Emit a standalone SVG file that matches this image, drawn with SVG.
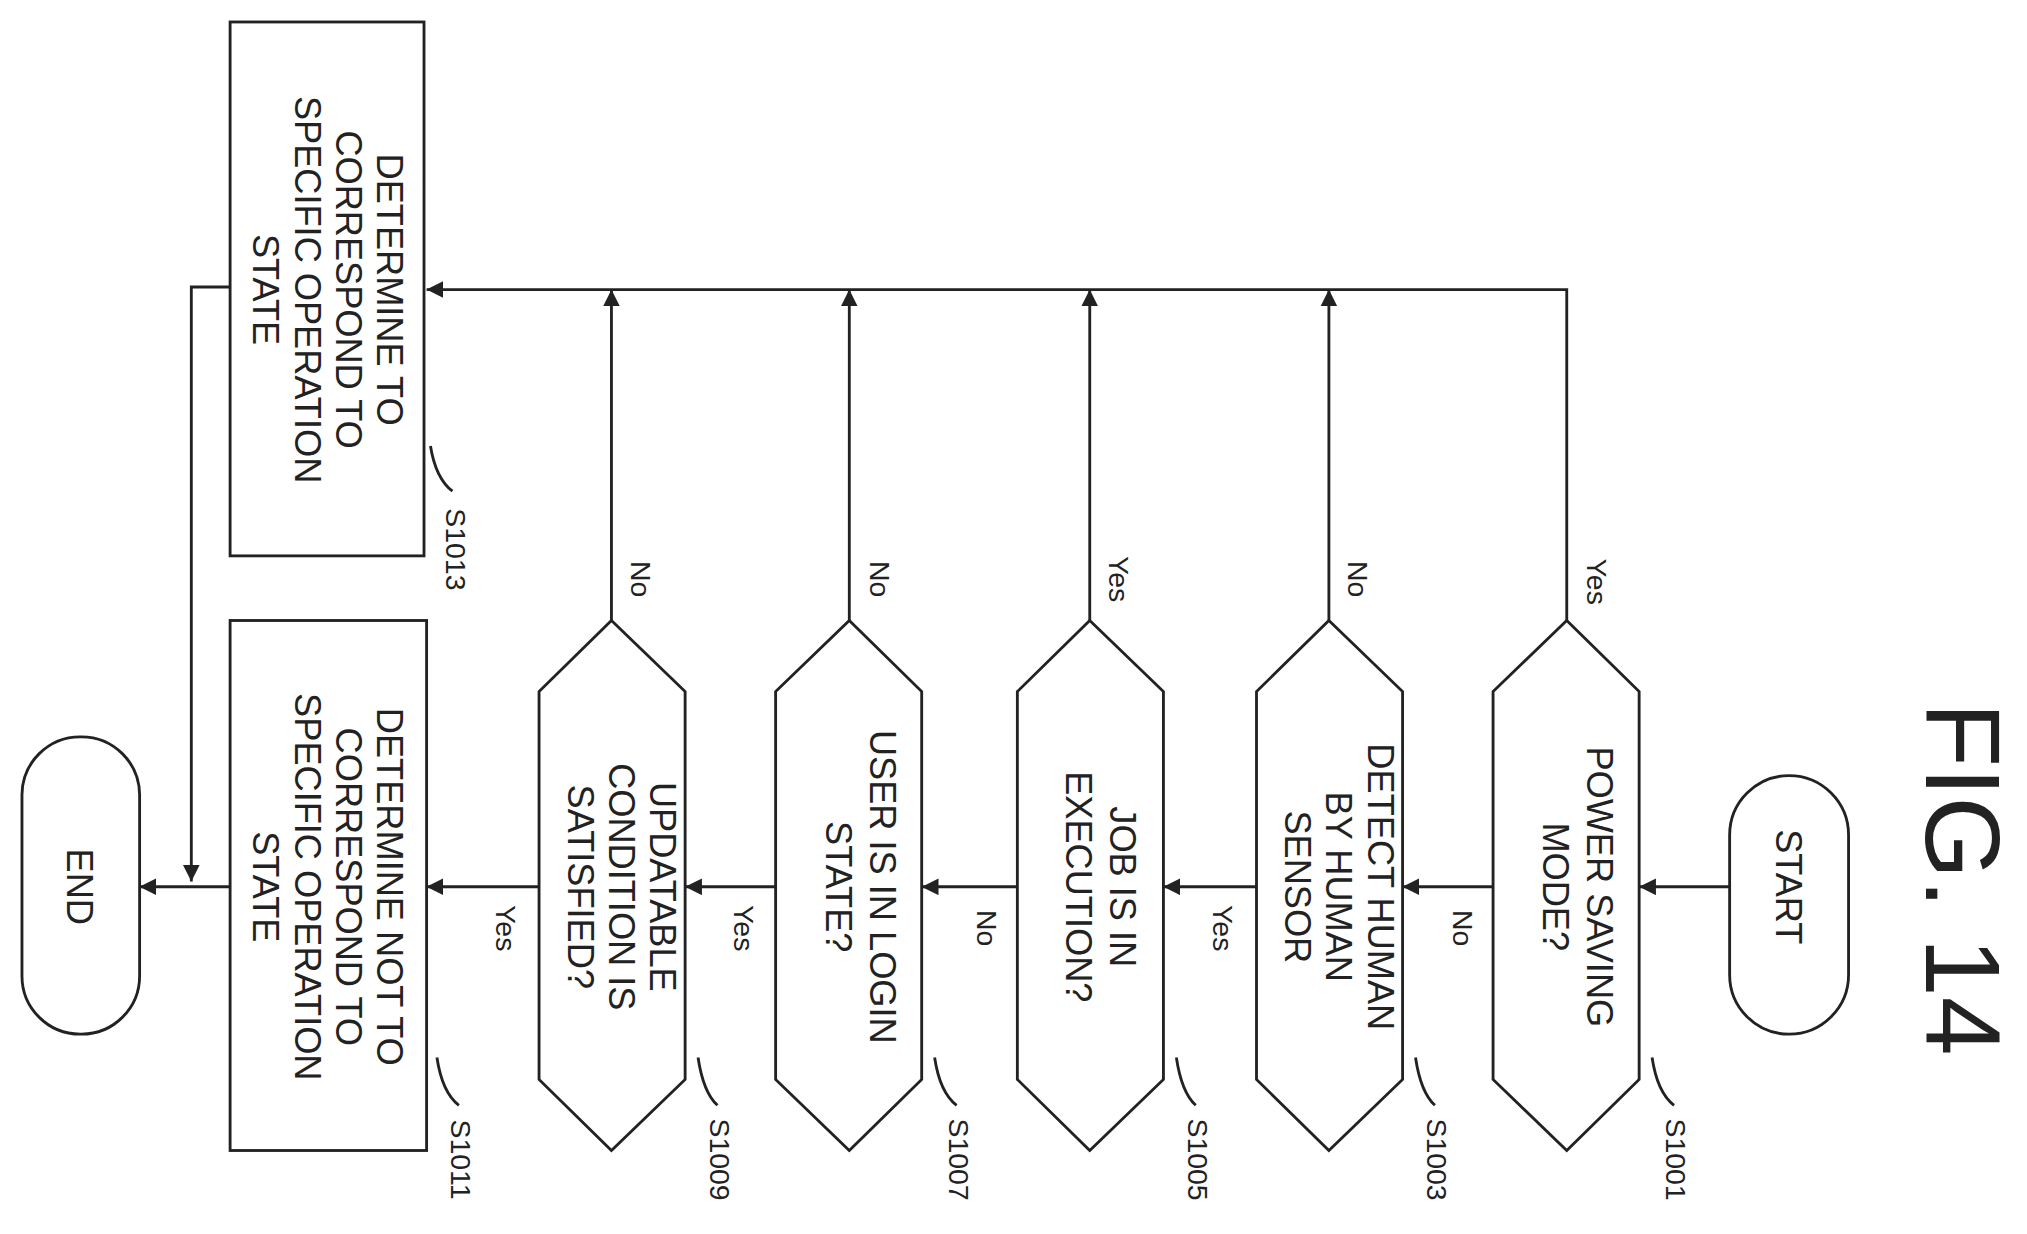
<svg xmlns="http://www.w3.org/2000/svg" width="2027" height="1234" viewBox="0 0 2027 1234">
<defs>
<style>
.s{fill:#fff;stroke:#222;stroke-width:2.2}
.c{fill:none;stroke:#222;stroke-width:2.2}
.t{font-family:"Liberation Sans",Arial,sans-serif;font-size:28px;fill:#222;text-anchor:middle}
.l{font-family:"Liberation Sans",Arial,sans-serif;font-size:22px;fill:#222;text-anchor:middle}
</style>
<marker id="a" viewBox="0 0 10 10" refX="10" refY="5" markerWidth="13" markerHeight="13" markerUnits="userSpaceOnUse" orient="auto"><path d="M0,0L10,5L0,10z" fill="#222"/></marker>
</defs>
<rect width="2027" height="1234" fill="#fff"/>
<g transform="scale(1.2927)">
<text class="t" style="font-size:82px" transform="translate(1490,680) rotate(90)">FIG. 14</text>
<g id="start"><rect class="s" x="1338" y="600" width="92" height="200" rx="46"/><text class="t" transform="translate(1374,686) rotate(90)">START</text></g>
<g id="S1001"><path class="s" d="M1212,480L1268,535V835L1212,890L1155,835V535Z"/><text class="t" transform="translate(1228,686) rotate(90)"><tspan x="0">POWER SAVING</tspan><tspan x="0" dy="34">MODE?</tspan></text></g>
<g id="S1003"><path class="s" d="M1028,480L1085,535V835L1028,890L972,835V535Z"/><text class="t" transform="translate(1058,686) rotate(90)"><tspan x="0">DETECT HUMAN</tspan><tspan x="0" dy="32">BY HUMAN</tspan><tspan x="0" dy="32">SENSOR</tspan></text></g>
<g id="S1005"><path class="s" d="M843,480L900,535V835L843,890L787,835V535Z"/><text class="t" transform="translate(859,686) rotate(90)"><tspan x="0">JOB IS IN</tspan><tspan x="0" dy="34">EXECUTION?</tspan></text></g>
<g id="S1007"><path class="s" d="M657,480L713,535V835L657,890L600,835V535Z"/><text class="t" transform="translate(673,686) rotate(90)"><tspan x="0">USER IS IN LOGIN</tspan><tspan x="0" dy="34">STATE?</tspan></text></g>
<g id="S1009"><path class="s" d="M473,480L530,535V835L473,890L417,835V535Z"/><text class="t" transform="translate(503,686) rotate(90)"><tspan x="0">UPDATABLE</tspan><tspan x="0" dy="32">CONDITION IS</tspan><tspan x="0" dy="32">SATISFIED?</tspan></text></g>
<g id="S1011"><rect class="s" x="178" y="480" width="152" height="410"/><text class="t" transform="translate(292,686) rotate(90)"><tspan x="0">DETERMINE NOT TO</tspan><tspan x="0" dy="32">CORRESPOND TO</tspan><tspan x="0" dy="32">SPECIFIC OPERATION</tspan><tspan x="0" dy="32">STATE</tspan></text></g>
<g id="S1013"><rect class="s" x="178" y="17" width="150" height="413"/><text class="t" transform="translate(292,224) rotate(90)"><tspan x="0">DETERMINE TO</tspan><tspan x="0" dy="32">CORRESPOND TO</tspan><tspan x="0" dy="32">SPECIFIC OPERATION</tspan><tspan x="0" dy="32">STATE</tspan></text></g>
<g id="end"><rect class="s" x="17" y="570" width="91" height="230" rx="45"/><text class="t" transform="translate(52,686) rotate(90)">END</text></g>
<g id="connectors">
<path class="c" d="M1338,686H1268" marker-end="url(#a)"/>
<path class="c" d="M1155,686H1085" marker-end="url(#a)"/>
<path class="c" d="M972,686H900" marker-end="url(#a)"/>
<path class="c" d="M787,686H713" marker-end="url(#a)"/>
<path class="c" d="M600,686H530" marker-end="url(#a)"/>
<path class="c" d="M417,686H330" marker-end="url(#a)"/>
<path class="c" d="M178,686H108" marker-end="url(#a)"/>
<path class="c" d="M1212,480V224H330" marker-end="url(#a)"/>
<path class="c" d="M1028,480V224" marker-end="url(#a)"/>
<path class="c" d="M843,480V224" marker-end="url(#a)"/>
<path class="c" d="M657,480V224" marker-end="url(#a)"/>
<path class="c" d="M473,480V224" marker-end="url(#a)"/>
<path class="c" d="M178,222H148V682" marker-end="url(#a)"/>
<path class="c" d="M1278,818Q1282,845 1295,855"/>
<path class="c" d="M1095,818Q1099,845 1110,855"/>
<path class="c" d="M910,818Q914,845 925,855"/>
<path class="c" d="M723,818Q727,845 740,855"/>
<path class="c" d="M540,818Q544,845 555,855"/>
<path class="c" d="M338,818Q342,845 355,855"/>
<path class="c" d="M333,345Q337,370 350,380"/>
</g>
<g id="labels">
<text class="l" transform="translate(1228,450) rotate(90)">Yes</text>
<text class="l" transform="translate(1124,718) rotate(90)">No</text>
<text class="l" transform="translate(1043,448) rotate(90)">No</text>
<text class="l" transform="translate(938,718) rotate(90)">Yes</text>
<text class="l" transform="translate(858,448) rotate(90)">Yes</text>
<text class="l" transform="translate(756,718) rotate(90)">No</text>
<text class="l" transform="translate(673,448) rotate(90)">No</text>
<text class="l" transform="translate(568,718) rotate(90)">Yes</text>
<text class="l" transform="translate(488,448) rotate(90)">No</text>
<text class="l" transform="translate(384,718) rotate(90)">Yes</text>
<text class="l" transform="translate(1289,897) rotate(90)">S1001</text>
<text class="l" transform="translate(1104,897) rotate(90)">S1003</text>
<text class="l" transform="translate(919,897) rotate(90)">S1005</text>
<text class="l" transform="translate(734,897) rotate(90)">S1007</text>
<text class="l" transform="translate(549,897) rotate(90)">S1009</text>
<text class="l" transform="translate(349,897) rotate(90)">S1011</text>
<text class="l" transform="translate(345,425) rotate(90)">S1013</text>
</g>
</g>
</svg>
